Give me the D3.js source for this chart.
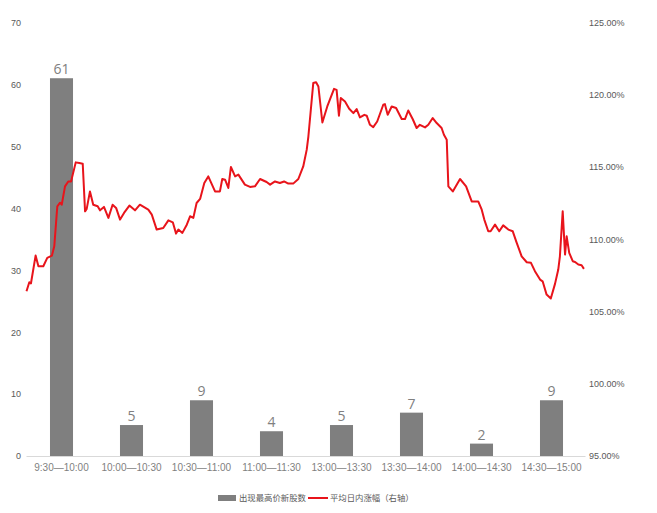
<!DOCTYPE html>
<html><head><meta charset="utf-8">
<script src="https://cdn.jsdelivr.net/npm/d3@7"></script>
<style>
body{margin:0;background:#fff;}
svg{display:block;font-family:"Open Sans","Noto Sans CJK SC",sans-serif;}
</style></head>
<body><svg id="c" width="657" height="513"></svg>
<script>
const categories = ["9:30—10:00","10:00—10:30","10:30—11:00","11:00—11:30","13:00—13:30","13:30—14:00","14:00—14:30","14:30—15:00"];
const barValues = [61,5,9,4,5,7,2,9];
const leftTicks = [0,10,20,30,40,50,60,70];
const rightTicks = [95,100,105,110,115,120,125];
const seriesNames = ["出现最高价新股数","平均日内涨幅（右轴）"];
// trading minutes since 9:30 (0–240) and average intraday gain (%)
const lineMinutes = [0,1.2,1.9,3.9,5.1,7.2,8.9,10.9,11.9,13.2,14.4,15.1,16.5,17.9,19.1,21.1,22.6,24.1,25.1,25.8,27.2,28.6,30.5,31.5,33.2,35.1,36.9,38.4,40.1,41.8,44.1,46.5,48.6,52.2,53.7,55.8,58.6,60.8,62.7,64.1,65.1,66.8,68.7,70.1,71.5,72.9,74.4,76.2,77.9,80.8,82.9,
83.9,85.1,86.5,87.6,89.4,90.8,93.6,95.8,97.9,100.1,102.9,104.4,106.5,108.6,110.4,112.2,114.3,116.5,118.6,120.1,
120.8,122.9,124.1,125.1,126.8,128.9,131.8,132.9,133.9,134.7,136.5,138.3,140.1,141.5,142.9,144.8,145.8,147.2,148.6,150.3,152.9,153.6,154.8,156.5,158.4,160.8,162.2,163.6,165.5,167.2,168.6,170.8,172.2,174.1,175.8,177.9,178.9,180.1,
180.8,182.7,185.8,188.4,190.8,193.6,195.1,196.2,197.9,198.9,200.8,202.6,204.3,206.5,208.4,210.1,212.2,214.4,216.2,217.9,220.1,221.2,222.9,224.7,226.5,227.9,228.6,229.8,230.8,231.5,232.6,234.1,235.1,236.5,237.9,238.9];
const lineValues = [106.40,107.02,106.94,108.87,108.13,108.13,108.71,108.87,109.51,112.28,112.53,112.39,113.66,114.00,114.00,115.32,115.28,115.23,111.93,112.10,113.31,112.39,112.28,112.00,112.24,111.48,112.39,112.17,111.36,111.82,112.33,112.00,112.39,112.05,111.70,110.67,110.78,111.31,111.17,110.39,110.67,110.44,111.01,111.59,111.48,112.51,112.79,113.89,114.35,113.31,113.31,
114.17,114.12,113.55,115.00,114.35,114.47,113.78,113.62,113.66,114.17,113.96,113.78,114.00,113.89,114.00,113.85,113.85,114.17,115.04,116.20,
117.11,120.81,120.87,120.57,118.08,119.19,120.41,120.34,118.55,119.77,119.53,119.03,118.73,119.01,118.43,118.61,118.55,117.92,117.76,118.15,119.31,119.35,118.61,119.19,119.08,118.32,118.32,118.91,118.32,117.70,117.92,117.74,117.92,118.39,118.04,117.70,117.23,116.89,
113.66,113.31,114.17,113.66,112.62,112.62,112.05,111.36,110.55,110.55,111.01,110.55,110.96,110.67,110.55,109.75,108.82,108.41,108.37,107.79,107.21,107.09,106.17,105.90,106.91,107.90,108.82,111.93,108.94,110.20,109.06,108.48,108.43,108.25,108.20,107.95];

const svg = d3.select("#c");
const x = d3.scaleBand().domain(categories).range([26.5,586.5]).paddingInner(0.671).paddingOuter(0.3355);
const xt = d3.scaleLinear().domain([0,240]).range([26.5,586.5]);
const yL = d3.scaleLinear().domain([0,70]).range([456,22.5]);
const yR = d3.scaleLinear().domain([95,125]).range([456,22.5]);

// left axis
const gl = svg.append("g").attr("transform","translate(21,0)")
  .call(d3.axisLeft(yL).tickValues(leftTicks).tickSize(0).tickPadding(0));
gl.select(".domain").remove();
gl.selectAll("text").attr("fill","#595959").style("font-size","9px");

// right axis
const gr = svg.append("g").attr("transform","translate(589,0)")
  .call(d3.axisRight(yR).tickValues(rightTicks).tickSize(0).tickPadding(0).tickFormat(d=>d.toFixed(2)+"%"));
gr.select(".domain").remove();
gr.selectAll("text").attr("fill","#595959").style("font-size","9px");

// baseline
svg.append("line").attr("x1",26.5).attr("x2",585.5).attr("y1",yL(0)+0.5).attr("y2",yL(0)+0.5)
  .attr("stroke","#d9d9d9").attr("stroke-width",1);

// bars
svg.append("g").selectAll("rect").data(barValues).join("rect")
  .attr("x",(d,i)=>x(categories[i])).attr("width",x.bandwidth())
  .attr("y",d=>yL(d)).attr("height",d=>yL(0)-yL(d)).attr("fill","#7f7f7f");
svg.append("g").selectAll("text").data(barValues).join("text")
  .attr("x",(d,i)=>x(categories[i])+x.bandwidth()/2).attr("y",d=>yL(d)-4)
  .attr("text-anchor","middle").attr("fill","#808080").style("font-size","14px").text(d=>d);

// x axis labels
const gx = svg.append("g").attr("transform","translate(0,"+yL(0)+")")
  .call(d3.axisBottom(x).tickSize(0).tickPadding(8));
gx.select(".domain").remove();
gx.selectAll("text").attr("fill","#7f7f7f").style("font-size","10px");

// line
const pts = lineMinutes.map((m,i)=>[m,lineValues[i]]);
svg.append("path").datum(pts)
  .attr("d",d3.line().x(d=>xt(d[0])).y(d=>yR(d[1])))
  .attr("fill","none").attr("stroke","#e8141b").attr("stroke-width",2).attr("stroke-linejoin","round");

// legend
const lg = svg.append("g");
lg.append("rect").attr("x",218).attr("y",495).attr("width",18).attr("height",6).attr("fill","#7f7f7f");
lg.append("text").attr("x",239).attr("y",501).attr("fill","#595959").style("font-size","8.4px").text(seriesNames[0]);
lg.append("line").attr("x1",308).attr("x2",328).attr("y1",498).attr("y2",498).attr("stroke","#e8141b").attr("stroke-width",2);
lg.append("text").attr("x",330).attr("y",501).attr("fill","#595959").style("font-size","8.4px").text(seriesNames[1]);
</script></body></html>
